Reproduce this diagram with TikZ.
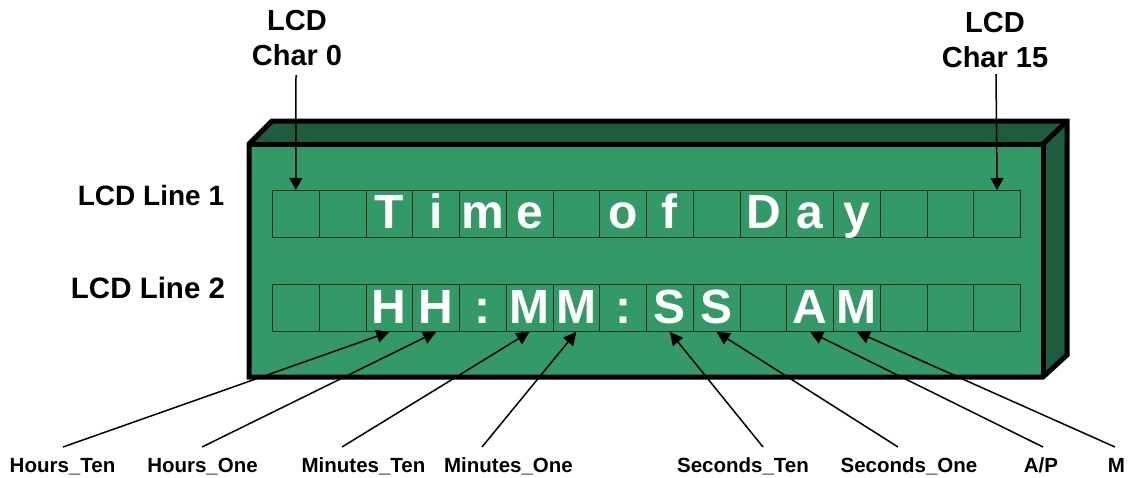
\documentclass[tikz,border=0pt]{standalone}
\usepackage{fontspec}
\setmainfont{Liberation Sans}
\usetikzlibrary{arrows.meta}
\definecolor{lcdgreen}{RGB}{51,153,102}
\definecolor{lcddark}{RGB}{31,92,61}
\definecolor{cellline}{RGB}{20,50,35}
\tikzset{
  panelline/.style={line width=5pt, line join=miter, draw=black},
  cellbox/.style={draw=cellline, line width=0.9pt, minimum width=46.75pt, minimum height=47pt, inner sep=0pt, anchor=north west},
  lcdchar/.style={text=white, font=\fontsize{48}{48}\selectfont\bfseries, inner sep=0pt, anchor=base},
  toplabel/.style={font=\fontsize{29}{35}\selectfont\bfseries, align=center, inner sep=0pt, anchor=north},
  linelabel/.style={font=\fontsize{28}{30}\selectfont\bfseries, inner sep=0pt, anchor=base},
  botlabel/.style={font=\fontsize{20.5}{22}\selectfont\bfseries, inner sep=0pt, anchor=base},
  arr/.style={line width=1.5pt, -{Triangle[length=12pt,width=13pt]}},
  leader/.style={line width=1.5pt, -{Triangle[length=13pt,width=13pt]}}
}
\begin{document}
\begin{tikzpicture}[x=1pt,y=-1pt]
\useasboundingbox (0,0) rectangle (1129,477);
% panel faces
\fill[lcddark] (249,144) -- (272,121) -- (1067,121) -- (1067,355) -- (1043,377) -- (1043,144) -- cycle;
\fill[lcdgreen] (249,144) rectangle (1043,377);
% panel outline
\draw[panelline] (249,144) -- (272,121) -- (1067,121) -- (1067,355) -- (1043,377) -- (249,377) -- cycle;
\draw[panelline] (249,144) -- (1043,144) -- (1043,377);
\draw[panelline, line cap=butt] (1043,144) -- (1065,123);
% cells
\foreach \i in {0,...,15} {
  \node[cellbox] (c1-\i) at (272+\i*46.75,190) {};
  \node[cellbox] (c2-\i) at (272+\i*46.75,284) {};
}
% row 1 text
\foreach \i/\ch in {2/T,3/i,4/m,5/e,7/o,8/f,10/D,11/a,12/y} {
  \node[lcdchar, yshift=9pt] (t1-\i) at (c1-\i.south) {\ch};
}
% row 2 text
\foreach \i/\ch in {2/H,3/H,4/:,5/M,6/M,7/:,8/S,9/S,11/A,12/M} {
  \node[lcdchar, yshift=8pt] (t2-\i) at (c2-\i.south) {\ch};
}
% labels
\node[toplabel] (ch0) at (297,10) {LCD\\Char 0};
\node[toplabel] (ch15) at (995,12) {LCD\\Char 15};
\coordinate (ch0s) at (296,75);
\coordinate (ch15s) at (996,74);
\node[linelabel] (ln1) at (151,205) {LCD Line 1};
\node[linelabel, font=\fontsize{29.5}{30}\selectfont\bfseries] (ln2) at (148,298) {LCD Line 2};
\node[botlabel] (ht) at (62.5,472) {Hours\_Ten};
\node[botlabel] (ho) at (202.5,472) {Hours\_One};
\node[botlabel] (mt) at (363.5,472) {Minutes\_Ten};
\node[botlabel] (mo) at (508.5,472) {Minutes\_One};
\node[botlabel] (st) at (743,472) {Seconds\_Ten};
\node[botlabel] (so) at (909,472) {Seconds\_One};
\node[botlabel] (ap) at (1041,472) {A/P};
\node[botlabel] (mm) at (1116.5,472) {M};
\coordinate (hts) at (63,447);
\coordinate (hos) at (202,447);
\coordinate (mts) at (342,447);
\coordinate (mos) at (482,447);
\coordinate (sts) at (763,447);
\coordinate (sos) at (898,447);
\coordinate (aps) at (1043,447);
\coordinate (mms) at (1115,447);
% connectors
\draw[arr] (ch0s) -- (c1-0.north);
\draw[arr] (ch15s) -- (c1-15.north);
\draw[leader] (hts) -- (c2-2.south);
\draw[leader] (hos) -- (c2-3.south);
\draw[leader] (mts) -- (c2-5.south);
\draw[leader] (mos) -- (c2-6.south);
\draw[leader] (sts) -- (c2-8.south);
\draw[leader] (sos) -- (c2-9.south);
\draw[leader] (aps) -- (c2-11.south);
\draw[leader] (mms) -- (c2-12.south);
\end{tikzpicture}
\end{document}
